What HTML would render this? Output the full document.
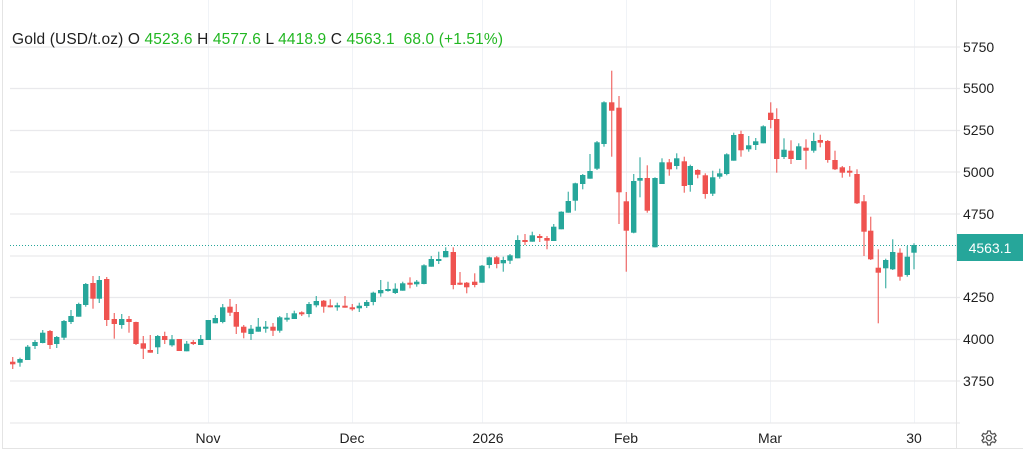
<!DOCTYPE html>
<html><head><meta charset="utf-8"><style>
html,body{margin:0;padding:0;background:#fff;}
body{width:1023px;height:452px;overflow:hidden;font-family:"Liberation Sans",Arial,sans-serif;}
</style></head><body>
<svg id="s" width="1023" height="452" xmlns="http://www.w3.org/2000/svg" style="display:block">
<rect x="0" y="0" width="1023" height="452" fill="#fff"/>
<line x1="2.5" y1="0" x2="2.5" y2="448" stroke="#e4e4e4"/>
<line x1="2" y1="448.5" x2="1023" y2="448.5" stroke="#e4e4e4"/>
<g stroke="#f0f3f7" stroke-width="1">
<line x1="208.5" y1="0" x2="208.5" y2="423"/><line x1="352.5" y1="0" x2="352.5" y2="423"/>
<line x1="482.5" y1="0" x2="482.5" y2="423"/><line x1="626.5" y1="0" x2="626.5" y2="423"/>
<line x1="770.5" y1="0" x2="770.5" y2="423"/><line x1="914.5" y1="0" x2="914.5" y2="423"/>
</g>
<g stroke="#e9e9ec" stroke-width="1.2">
<line x1="10" y1="47" x2="960" y2="47"/><line x1="10" y1="88.5" x2="960" y2="88.5"/>
<line x1="10" y1="130.5" x2="960" y2="130.5"/><line x1="10" y1="172" x2="960" y2="172"/>
<line x1="10" y1="214" x2="960" y2="214"/><line x1="10" y1="256" x2="960" y2="256"/>
<line x1="10" y1="297.5" x2="960" y2="297.5"/><line x1="10" y1="339.5" x2="960" y2="339.5"/>
<line x1="10" y1="381" x2="960" y2="381"/><line x1="10" y1="423" x2="960" y2="423"/>
</g>
<line x1="956.5" y1="0" x2="956.5" y2="448" stroke="#e4e4e4"/>
<line x1="10" y1="245.5" x2="956" y2="245.5" stroke="#26a69a" stroke-width="1" stroke-dasharray="1,2"/>
<g id="c"></g>
<rect x="957" y="234" width="66" height="27" fill="#26a69a"/>
<text x="990" y="253" font-size="14" fill="#fff" text-anchor="middle">4563.1</text>
<g font-size="14" fill="#1f1f1f">
<text x="963" y="52">5750</text><text x="963" y="93">5500</text><text x="963" y="135">5250</text>
<text x="963" y="177">5000</text><text x="963" y="219">4750</text><text x="963" y="302">4250</text>
<text x="963" y="344">4000</text><text x="963" y="386">3750</text>
</g>
<g font-size="14" fill="#1f1f1f" text-anchor="middle">
<text x="208" y="443">Nov</text><text x="352" y="443">Dec</text><text x="488" y="443">2026</text>
<text x="626" y="443">Feb</text><text x="770" y="443">Mar</text><text x="914" y="443">30</text>
</g>
<g transform="translate(989,438)" fill="none" stroke="#555" stroke-width="1.3">
<circle r="2.6"/>
<path d="M-1.3,-7 L1.3,-7 L1.8,-4.8 L3.6,-3.8 L5.7,-4.6 L7,-2.4 L5.3,-0.9 L5.3,0.9 L7,2.4 L5.7,4.6 L3.6,3.8 L1.8,4.8 L1.3,7 L-1.3,7 L-1.8,4.8 L-3.6,3.8 L-5.7,4.6 L-7,2.4 L-5.3,0.9 L-5.3,-0.9 L-7,-2.4 L-5.7,-4.6 L-3.6,-3.8 L-1.8,-4.8 Z"/>
</g>
<text x="12" y="44" font-size="15.5" fill="#1f1f1f" xml:space="preserve" textLength="491" lengthAdjust="spacing">Gold (USD/t.oz) O <tspan fill="#22b722">4523.6</tspan> H <tspan fill="#22b722">4577.6</tspan> L <tspan fill="#22b722">4418.9</tspan> C <tspan fill="#22b722">4563.1</tspan>  <tspan fill="#22b722">68.0 (+1.51%)</tspan></text>
</svg>
<script>
var G='#26a69a',R='#ef5350';
var d=[
[12.7,R,361.7,364.3,357,369],[20,G,359,362.7,357.7,366.7],[27.7,G,346.7,360,345,360],[35,G,342,346,340,349],
[42.7,G,332.7,343,330,343.3],[50,R,331,345,330,349],[56.7,G,337,344,336,348],[64,G,321,337.7,320,340],
[71,G,316,322,310,324],[78.7,G,304,316.7,302.7,316.7],[85.7,G,284,305,283,306.7],[93,R,283,298.7,276,308.7],
[99.3,G,280,298.7,276,303],[106.7,R,279,320,277,326],[114.3,R,319,324,313,338.7],[121.7,G,319,325,314,328.7],
[129,R,319,322,316,332.7],[136,R,322,344,321.7,345],[143.3,R,343.3,348.7,336,359],[150.3,R,350,352.7,335,352.7],
[157.7,G,336,347.3,335,354],[164.7,R,336,340,331.7,344],[172,G,339.3,345.3,335,346.7],[179.3,R,339,351,339,351],
[186.7,G,343.7,351.3,341,351.3],[193.3,R,342,344,340,345],[200.7,G,339,345,335,345],[208.3,G,320,340,320,340],
[215.3,G,318,323.3,315,323.3],[222.7,G,307.3,322,304,323.3],[230,R,306.7,312.7,299,316],[236.3,R,312,326.7,304,334],
[243.7,R,326.7,332.7,325,338.3],[251,G,328.7,334,325,340],[258.3,G,326.7,331.7,318,331.7],[265.7,G,326.7,328.7,321,332.7],
[273,R,326.7,330.7,323,336],[279.7,G,317.3,330.7,316,332.7],[287,G,317.7,319.3,313,321.7],[294.3,G,313.3,319,310.7,319],
[301.7,R,312.3,314,311.3,316],[309,G,304,314,302,317.3],[316.3,G,301,305.3,296,307.3],[323.7,R,300.7,306.7,300,312.7],
[330.3,R,305.3,306.7,299.3,307.3],[337.3,G,305.3,306.3,302.7,310.7],[345,R,305.7,307.7,296,307.7],[352.3,R,307.3,308.3,304,310.7],
[359.3,G,305.7,308.3,302.7,312],[366.7,G,302,306,300,308],[373.3,G,292.7,302,291.7,305.3],[380.7,G,290,293.3,280,296.7],
[388,G,289,290.7,281.7,291.7],[395.3,G,288.7,293,283.3,294],[402.7,G,283.3,290.7,281.7,290.7],[410,R,282.7,284.3,277.3,288.3],
[416.7,G,281.7,284.3,280,286.7],[424,G,265.3,284,264.3,284.3],[431.3,G,259,266.7,256,266.7],[438.7,G,259,260.3,251.7,264],
[445.7,G,251,257.3,247.3,257.3],[453.3,R,252,285,247.3,289.3],[460,R,282.7,284,272,285],[466.7,R,282.7,287.3,282,293.3],
[474.7,R,281.7,285,273.3,287.3],[482,G,265.7,282.7,265,282.7],[489.3,G,257.3,265,256.7,268.3],[496.7,R,257.3,264,256,268.3],
[503.3,G,260,263.3,256.7,271.7],[510,G,255.3,260.7,254,264],[517.7,G,240,258.3,235.3,258.3],[525,R,240,242,234,245],
[532.3,G,235.3,241.7,231.7,241.7],[539.7,R,236,237.3,234,242],[547,R,238,240.7,236,249.3],[553.7,G,226.7,241,224,241],
[561.3,G,211.7,229.3,211.3,229.3],[568.3,G,201,212.7,191.7,212.7],[575.3,G,183.3,200.7,182.7,210.7],[582.7,G,175,184,174,189.3],
[590,G,171,178.7,154,178.7],[597,G,142.3,168.7,141,170],[604,G,102.3,144,101.3,146.7],[611.7,R,102.3,110.7,70.7,156.7],
[619,R,107.7,192.3,96,224],[626.3,R,201.3,230.7,192,271.7],[633.7,G,181,232.7,174,233.3],[640,G,178,180.7,157.3,197.3],
[647.3,R,178,210.7,165.3,212.7],[655,G,178,247.3,177.3,247.3],[662,G,162.3,184,158.3,184],[669.3,R,162.3,169.3,159,175.7],
[676.7,G,158.3,166,153.3,169.3],[684.3,R,161.3,186,156.7,192.7],[690.3,G,166,185,164.7,191.7],[697.7,R,170,174.7,169.3,178.3],
[705.3,R,175.3,194,173.3,198.7],[712.7,G,177.3,193.7,170.7,196],[719.7,G,173.3,176.7,168.7,178.7],[726.7,G,154.3,174,153.3,175.3],
[733.7,G,135,160.7,132.7,160.7],[741,R,134,150.3,130.7,156.7],[748.7,G,145.3,149.3,136,151.7],[755.7,G,141.3,145,138,150],
[763.3,G,126.3,143.3,125.3,143.3],[770.7,R,112.7,120,102.3,128.3],[776.7,R,119,159,108.3,172.7],[784,G,149.7,157,138.3,159],
[791,R,150.7,159,140.3,164],[798.7,G,146.3,160,143.3,160],[806,R,147.7,150.7,139.3,169.3],[813.7,G,141,150.7,132.7,152.7],
[820.3,R,140,142.7,134.7,147.3],[827.7,R,141,160,140,162.7],[835,R,160,169.3,150.7,170],[842.3,R,167.3,172.7,166,177.7],
[849.7,R,170.7,172.7,166,176.7],[857,R,174,203.3,169.3,204],[864,R,201.3,231.7,195,256],[870.7,R,230.7,259.3,216.7,260],
[878.3,R,267.7,272.7,249.3,323.3],[885.7,G,260,268.3,258.7,288.3],[892.7,G,252,269.3,239.3,270],[900,R,252.7,276.7,248.3,280.7],
[907.3,G,256.7,275,246,276.7],[914,G,245,252.7,243.3,269.3]];
var h='';
d.forEach(function(c){var x=c[0],col=c[1];var t=c[2],b=c[3];if(b-t<2){b=t+2;}
h+='<line x1="'+x+'" y1="'+c[4]+'" x2="'+x+'" y2="'+c[5]+'" stroke="'+col+'" stroke-width="1.3" opacity="0.8"/>';
h+='<rect x="'+(x-2.7)+'" y="'+t+'" width="5.4" height="'+(b-t)+'" fill="'+col+'"/>';});
document.getElementById('c').innerHTML=h;
</script>
</body></html>
